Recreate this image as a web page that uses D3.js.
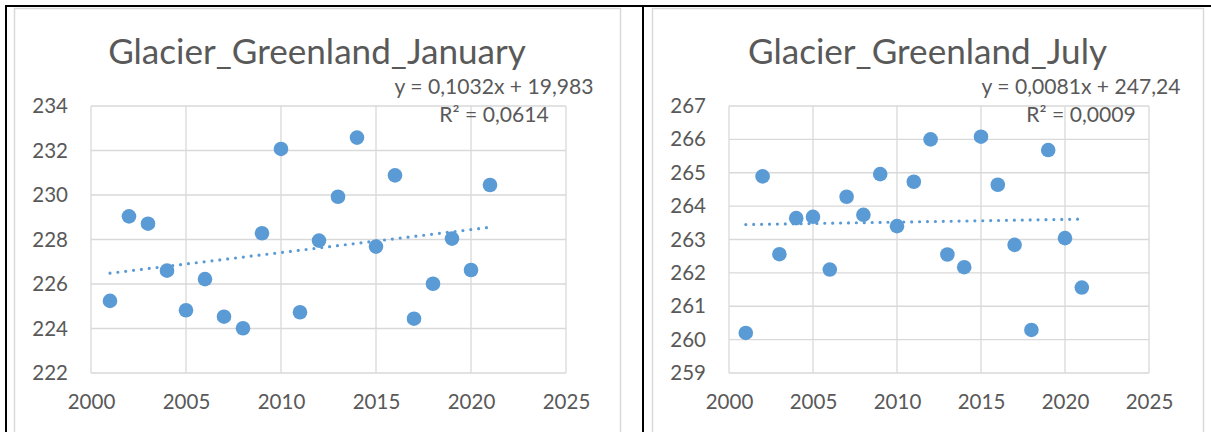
<!DOCTYPE html>
<html>
<head>
<meta charset="utf-8">
<script src="https://cdn.jsdelivr.net/npm/d3@7"></script>
<style>
  html, body { margin: 0; padding: 0; background: #fff; }
  svg { display: block; font-family: Lato, "Open Sans", sans-serif; }
</style>
</head>
<body>
<svg id="chart" width="1211" height="432"></svg>
<script>
// Glacier Greenland — January / July scatter with linear trend

const years = [2001, 2002, 2003, 2004, 2005, 2006, 2007, 2008, 2009, 2010, 2011,
               2012, 2013, 2014, 2015, 2016, 2017, 2018, 2019, 2020, 2021];

const januaryValues = [225.24, 229.04, 228.71, 226.60, 224.82, 226.22, 224.53, 224.01, 228.28, 232.07, 224.73,
                       227.95, 229.92, 232.58, 227.68, 230.88, 224.44, 226.01, 228.04, 226.63, 230.45];

const julyValues = [260.20, 264.89, 262.56, 263.64, 263.68, 262.10, 264.28, 263.74, 264.96, 263.40, 264.73,
                    266.00, 262.55, 262.17, 266.08, 264.64, 262.84, 260.29, 265.68, 263.04, 261.56];

const xTicks = [2000, 2005, 2010, 2015, 2020, 2025];
const januaryTicks = [222, 224, 226, 228, 230, 232, 234];
const julyTicks = [259, 260, 261, 262, 263, 264, 265, 266, 267];

// trend coefficients as printed on the chart (slope, intercept)
const januaryTrend = [0.1032, 19.983];
const julyTrend = [0.0081, 247.24];
const januaryLabels = ["y = 0,1032x + 19,983", "R² = 0,0614"];
const julyLabels = ["y = 0,0081x + 247,24", "R² = 0,0009"];

const titles = ["Glacier_Greenland_January", "Glacier_Greenland_July"];

const svg = d3.select("#chart");
const BLUE = "#5b9bd5";
const GRID = "#d9d9d9";
const TEXT = "#595959";

// pick a font size so that a sample string gets the width seen in the picture
function fitSize(sample, targetWidth) {
  const probe = svg.append("text").style("font-size", "20px").text(sample);
  const w = probe.node().getComputedTextLength();
  probe.remove();
  return 20 * targetWidth / w;
}
const titleSize = fitSize(titles[0], 418);
const eqSize = fitSize(januaryLabels[0], 199);
const tickSize = 20.5;

// table borders
svg.append("line").attr("x1", 5).attr("x2", 1211).attr("y1", 6).attr("y2", 6)
  .attr("stroke", "#000").attr("stroke-width", 2);
svg.append("line").attr("x1", 6).attr("x2", 6).attr("y1", 5).attr("y2", 432)
  .attr("stroke", "#000").attr("stroke-width", 2);
svg.append("line").attr("x1", 643).attr("x2", 643).attr("y1", 5).attr("y2", 432)
  .attr("stroke", "#000").attr("stroke-width", 2);

const charts = [
  {
    title: titles[0], values: januaryValues, yTicks: januaryTicks, trend: januaryTrend, labels: januaryLabels,
    frame: [14, 620], plotX: [91, 566], labelX: 494
  },
  {
    title: titles[1], values: julyValues, yTicks: julyTicks, trend: julyTrend, labels: julyLabels,
    frame: [652, 1203], plotX: [729, 1149], labelX: 1081
  }
];

const plotTop = 106, plotBottom = 373;

charts.forEach(c => {
  const g = svg.append("g");

  // chart frame
  g.append("rect")
    .attr("x", c.frame[0] + 0.5).attr("y", 8.5)
    .attr("width", c.frame[1] - c.frame[0]).attr("height", 440)
    .attr("fill", "#fff").attr("stroke", GRID).attr("stroke-width", 1.5);

  const x = d3.scaleLinear().domain(d3.extent(xTicks)).range(c.plotX);
  const y = d3.scaleLinear().domain(d3.extent(c.yTicks)).range([plotBottom, plotTop]);

  // gridlines
  g.append("g").selectAll("line.h").data(c.yTicks).enter().append("line")
    .attr("x1", c.plotX[0]).attr("x2", c.plotX[1])
    .attr("y1", d => y(d)).attr("y2", d => y(d))
    .attr("stroke", GRID).attr("stroke-width", 1.3);
  g.append("g").selectAll("line.v").data(xTicks).enter().append("line")
    .attr("x1", d => x(d)).attr("x2", d => x(d))
    .attr("y1", plotTop).attr("y2", plotBottom)
    .attr("stroke", GRID).attr("stroke-width", 1.3);

  // axes
  const yAxis = g.append("g")
    .attr("transform", `translate(${c.plotX[0] - 23},0)`)
    .call(d3.axisLeft(y).tickValues(c.yTicks).tickSize(0).tickPadding(0).tickFormat(d3.format("d")));
  const xAxis = g.append("g")
    .attr("transform", `translate(0,${plotBottom + 21})`)
    .call(d3.axisBottom(x).tickValues(xTicks).tickSize(0).tickPadding(0).tickFormat(d3.format("d")));
  [yAxis, xAxis].forEach(a => {
    a.select(".domain").remove();
    a.selectAll("text").attr("fill", TEXT).style("font-size", tickSize + "px").style("font-family", "Lato");
  });

  // trend line
  const x0 = d3.min(years), x1 = d3.max(years);
  const fit = v => c.trend[0] * v + c.trend[1];
  g.append("line")
    .attr("x1", x(x0)).attr("y1", y(fit(x0)))
    .attr("x2", x(x1)).attr("y2", y(fit(x1)))
    .attr("stroke", BLUE).attr("stroke-width", 3.2)
    .attr("stroke-linecap", "round").attr("stroke-dasharray", "0 7.9");

  // points
  g.append("g").selectAll("circle").data(years).enter().append("circle")
    .attr("cx", d => x(d))
    .attr("cy", (d, i) => y(c.values[i]))
    .attr("r", 7.3)
    .attr("fill", BLUE);

  // title
  g.append("text")
    .attr("x", (c.frame[0] + c.frame[1]) / 2).attr("y", 64)
    .attr("text-anchor", "middle").attr("fill", TEXT)
    .style("font-size", titleSize + "px")
    .text(c.title);

  // trend labels
  g.selectAll("text.eq").data(c.labels).enter().append("text")
    .attr("class", "eq")
    .attr("x", c.labelX).attr("y", (d, i) => 94 + i * 28)
    .attr("text-anchor", "middle").attr("fill", TEXT)
    .style("font-size", eqSize + "px")
    .text(d => d);
});
</script>
</body>
</html>
